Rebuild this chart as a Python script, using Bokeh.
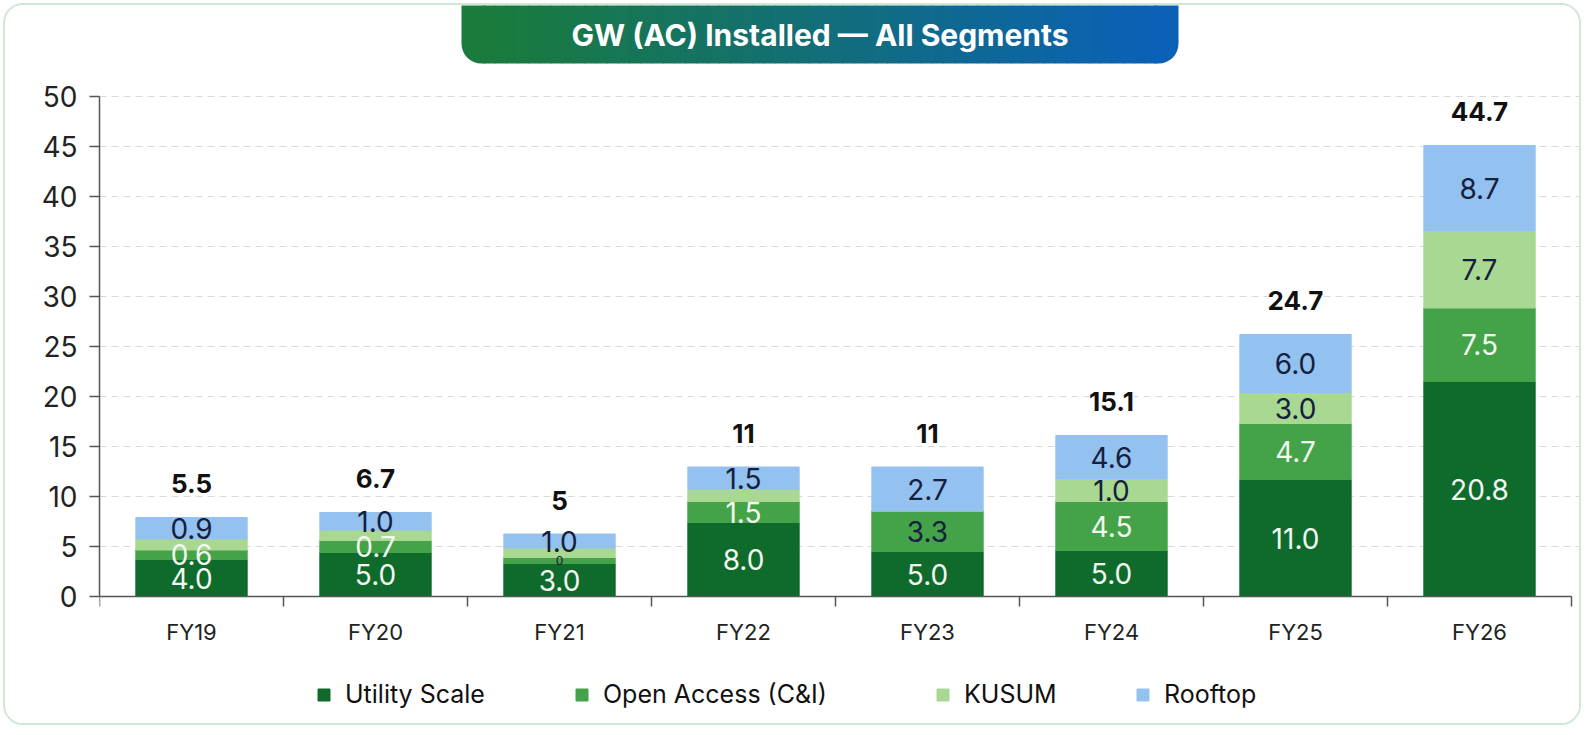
from bokeh.plotting import figure
from bokeh.models import (ColumnDataSource, Range1d, FixedTicker, Legend, LegendItem,
                          LabelSet, BoxAnnotation)
from bokeh.core.properties import value
from bokeh.embed import file_html
from bokeh.resources import INLINE

# ---------------- data ----------------
categories = ["FY19", "FY20", "FY21", "FY22", "FY23", "FY24", "FY25", "FY26"]
series_names = ["Utility Scale", "Open Access (C&I)", "KUSUM", "Rooftop"]

# bar segment heights as drawn in the picture (GW)
utility = [3.7, 4.4, 3.3, 7.4, 4.5, 4.6, 11.7, 21.5]
open_access = [0.95, 1.2, 0.6, 2.1, 4.05, 4.9, 5.6, 7.35]
kusum = [1.1, 1.05, 0.95, 1.2, 0.0, 2.3, 3.1, 7.75]
rooftop = [2.15, 1.75, 1.4, 2.25, 4.4, 4.3, 5.8, 8.5]

# value labels printed on the chart
utility_labels = ["4.0", "5.0", "3.0", "8.0", "5.0", "5.0", "11.0", "20.8"]
open_access_labels = ["0.6", "0.7", "0", "1.5", "3.3", "4.5", "4.7", "7.5"]
kusum_labels = ["", "", "", "", "", "1.0", "3.0", "7.7"]
rooftop_labels = ["0.9", "1.0", "1.0", "1.5", "2.7", "4.6", "6.0", "8.7"]
total_labels = ["5.5", "6.7", "5", "11", "11", "15.1", "24.7", "44.7"]

y_ticks = [0, 5, 10, 15, 20, 25, 30, 35, 40, 45, 50]
title_text = "GW (AC) Installed \u2014 All Segments"

# ---------------- styles ----------------
FONT = "Inter"
colors = ["#0f6b2c", "#44a348", "#a8d891", "#93c1f0"]
WHITE_TXT = "#f3f8f1"
DARK_TXT = "#14203d"
oa_label_colors = [WHITE_TXT, WHITE_TXT, DARK_TXT, WHITE_TXT, DARK_TXT, WHITE_TXT, WHITE_TXT, WHITE_TXT]
oa_label_sizes = ["28px", "28px", "12px", "28px", "28px", "28px", "28px", "28px"]

W, H = 1578, 722
ORG = 5          # canvas origin on the page (margin 3 + border 2)
AX_X = 99        # page x of the y axis
AX_Y = 596       # page y of the x axis
PX_X = 184.0     # px per category
PX_Y = 10.0      # px per GW
X_END = (ORG + W - AX_X) / PX_X
Y_END = (AX_Y - ORG) / PX_Y
Y_START = -(ORG + H - AX_Y) / PX_Y

n = len(categories)
xs = [i + 0.5 for i in range(n)]
b1 = utility
b2 = [a + b for a, b in zip(b1, open_access)]
b3 = [a + b for a, b in zip(b2, kusum)]
tops = [a + b for a, b in zip(b3, rooftop)]

src = ColumnDataSource(dict(
    x=xs, utility=utility, open_access=open_access, kusum=kusum, rooftop=rooftop,
    top=tops,
    y_u=[h / 2 for h in utility],
    y_oa=[b + h / 2 for b, h in zip(b1, open_access)],
    y_k=[b + h / 2 for b, h in zip(b2, kusum)],
    y_r=[b + h / 2 for b, h in zip(b3, rooftop)],
    lbl_u=utility_labels, lbl_oa=open_access_labels, lbl_k=kusum_labels,
    lbl_r=rooftop_labels, lbl_t=total_labels,
    c_oa=oa_label_colors, s_oa=oa_label_sizes,
))

p = figure(width=W, height=H, output_backend="svg", toolbar_location=None,
           x_range=Range1d(0, X_END), y_range=Range1d(Y_START, Y_END),
           min_border_left=AX_X - ORG, min_border_right=0, min_border_top=0,
           min_border_bottom=0)
p.background_fill_color = "white"
p.border_fill_color = "white"
p.outline_line_color = None
p.styles = {"border": "2px solid #cfe8d4", "border-radius": "20px", "overflow": "hidden",
            "margin": "3px"}

# grid
p.xgrid.visible = False
p.ygrid.ticker = FixedTicker(ticks=y_ticks[1:])
p.ygrid.grid_line_color = "#d9d9d9"
p.ygrid.grid_line_dash = "7 5"
p.ygrid.grid_line_width = 1

# y axis
p.yaxis.ticker = FixedTicker(ticks=y_ticks)
p.yaxis.bounds = (0, 50)
p.yaxis.axis_line_color = "#555555"
p.yaxis.axis_line_width = 1.5
p.yaxis.major_tick_line_color = "#555555"
p.yaxis.major_tick_line_width = 1.5
p.yaxis.major_tick_out = 10
p.yaxis.major_tick_in = 0
p.yaxis.minor_tick_line_color = None
p.yaxis.major_label_text_font = FONT
p.yaxis.major_label_text_font_size = "28px"
p.yaxis.major_label_text_color = "#222222"
p.yaxis.major_label_standoff = 12

# x axis at y = 0: labels at centres, ticks at category boundaries
p.xaxis.fixed_location = 0
p.xaxis.ticker = FixedTicker(ticks=xs, minor_ticks=list(range(n + 1)))
p.xaxis.major_label_overrides = {x: c for x, c in zip(xs, categories)}
p.xaxis.bounds = (0, n)
p.xaxis.axis_line_color = "#555555"
p.xaxis.axis_line_width = 1.5
p.xaxis.major_tick_line_color = None
p.xaxis.major_tick_out = 0
p.xaxis.major_tick_in = 0
p.xaxis.minor_tick_line_color = "#555555"
p.xaxis.minor_tick_line_width = 1.5
p.xaxis.minor_tick_out = 10
p.xaxis.minor_tick_in = 0
p.xaxis.major_label_text_font = FONT
p.xaxis.major_label_text_font_size = "22px"
p.xaxis.major_label_text_color = "#222222"
p.xaxis.major_label_standoff = 12

# bars
rs = p.vbar_stack(["utility", "open_access", "kusum", "rooftop"], x="x", width=0.605,
                  color=colors, source=src)

# segment labels
seg_common = dict(source=src, text_font=value(FONT), text_align="center", text_baseline="middle")
p.text(x="x", y="y_u", text="lbl_u", text_color=WHITE_TXT, text_font_size="28px", **seg_common)
p.text(x="x", y="y_oa", text="lbl_oa", text_color="c_oa", text_font_size="s_oa", **seg_common)
p.text(x="x", y="y_k", text="lbl_k", text_color=DARK_TXT, text_font_size="28px", **seg_common)
p.text(x="x", y="y_r", text="lbl_r", text_color=DARK_TXT, text_font_size="28px", **seg_common)

# totals
totals = LabelSet(x="x", y="top", text="lbl_t", source=src, y_offset=34,
                  text_align="center", text_baseline="middle",
                  text_font=value(FONT), text_font_size="26px", text_font_style="bold",
                  text_color="#111111", background_fill_color="white")
p.add_layout(totals)

# title pill with gradient
pill_l = (461 - AX_X) / PX_X
pill_r = (1178 - AX_X) / PX_X
pill_b = (AX_Y - 63) / PX_Y
pill_t = Y_END + 1
c0 = (26, 123, 60)
c1 = (10, 97, 182)
r_px = 20.0
nstrip = 60
s_left = pill_l + (r_px + 2) / PX_X
s_right = pill_r - (r_px + 2) / PX_X
step = (s_right - s_left) / nstrip
lefts, rights, fills = [], [], []
for i in range(nstrip):
    t = i / (nstrip - 1)
    col = tuple(int(round(a + (b - a) * t)) for a, b in zip(c0, c1))
    lefts.append(s_left + i * step)
    rights.append(s_left + (i + 1) * step + (0.004 if i < nstrip - 1 else 0.0))
    fills.append("#%02x%02x%02x" % col)
p.quad(left=lefts, right=rights, bottom=pill_b, top=pill_t, fill_color=fills, line_color=None)
p.add_layout(BoxAnnotation(left=pill_l, right=pill_l + (r_px + 4) / PX_X, bottom=pill_b, top=pill_t,
                           fill_color="#%02x%02x%02x" % c0, fill_alpha=1.0, line_color=None,
                           border_radius=(0, 0, 0, int(r_px))))
p.add_layout(BoxAnnotation(left=pill_r - (r_px + 4) / PX_X, right=pill_r, bottom=pill_b, top=pill_t,
                           fill_color="#%02x%02x%02x" % c1, fill_alpha=1.0, line_color=None,
                           border_radius=(0, 0, int(r_px), 0)))
p.text(x=[(pill_l + pill_r) / 2], y=[(AX_Y - 34) / PX_Y], text=[title_text],
       text_font=value(FONT), text_font_size="30px", text_font_style="bold",
       text_color="white", text_align="center", text_baseline="middle")

# legend: one legend per item, positioned like the reference (inside the extended frame)
leg_x = [316, 574, 935, 1135]
leg_bottom_page = 709
for name, r, lx in zip(series_names, rs, leg_x):
    lg = Legend(items=[LegendItem(label=name, renderers=[r])],
                location=(lx - AX_X, ORG + H - leg_bottom_page),
                orientation="horizontal", glyph_width=15, glyph_height=15,
                label_standoff=14, padding=0, margin=0, spacing=0,
                border_line_color=None, background_fill_alpha=0,
                label_text_font=FONT, label_text_font_size="25px",
                label_text_color="#111111")
    p.add_layout(lg)

open("out.html", "w").write(file_html(p, INLINE))
